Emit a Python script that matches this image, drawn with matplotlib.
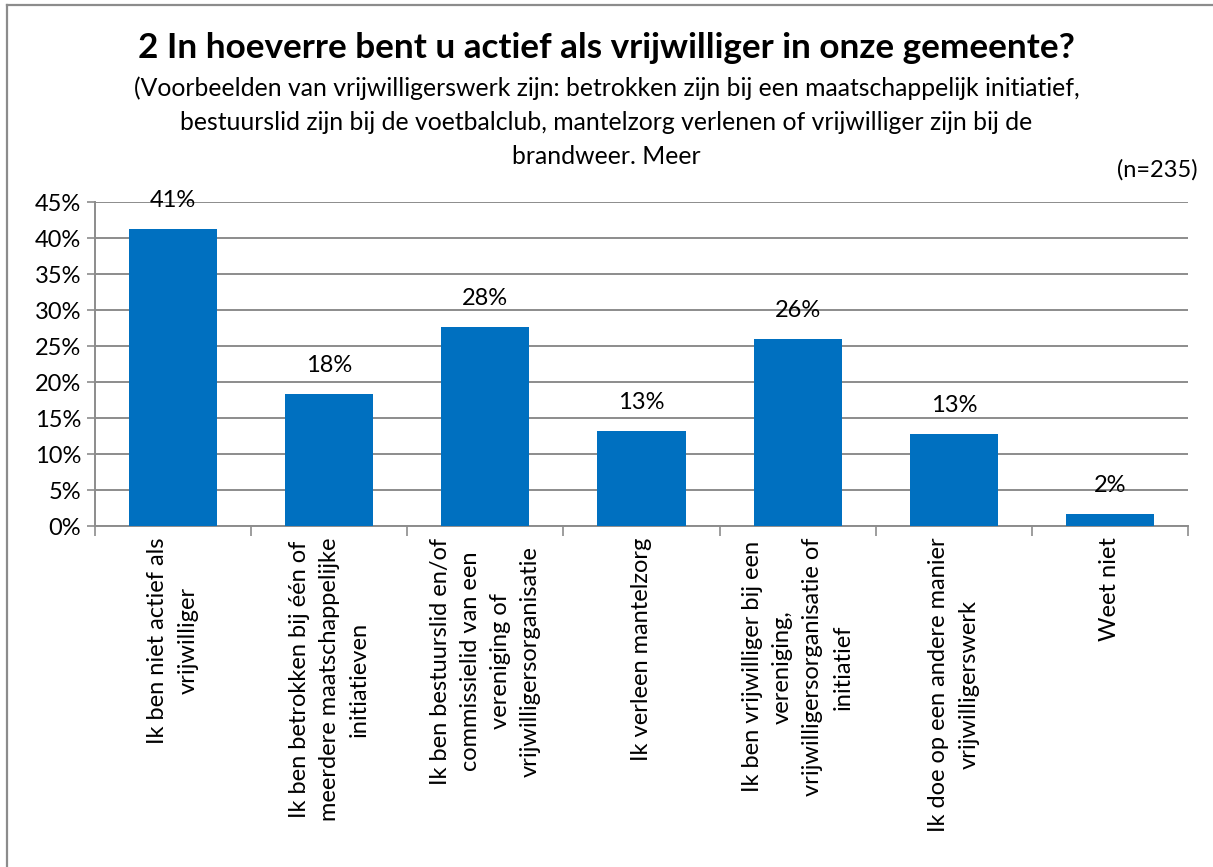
import matplotlib
matplotlib.use("Agg")
import matplotlib.pyplot as plt
from matplotlib.lines import Line2D

categories = [
    "Ik ben niet actief als\nvrijwilliger",
    "Ik ben betrokken bij één of\nmeerdere maatschappelijke\ninitiatieven",
    "Ik ben bestuurslid en/of\ncommissielid van een\nvereniging of\nvrijwilligersorganisatie",
    "Ik verleen mantelzorg",
    "Ik ben vrijwilliger bij een\nvereniging,\nvrijwilligersorganisatie of\ninitiatief",
    "Ik doe op een andere manier\nvrijwilligerswerk",
    "Weet niet",
]
values = [41.3, 18.3, 27.7, 13.2, 26.0, 12.8, 1.7]
labels = ["41%", "18%", "28%", "13%", "26%", "13%", "2%"]
yticks = [0, 5, 10, 15, 20, 25, 30, 35, 40, 45]

title = "2 In hoeverre bent u actief als vrijwilliger in onze gemeente?"
subtitle = ("(Voorbeelden van vrijwilligerswerk zijn: betrokken zijn bij een maatschappelijk initiatief,\n"
            "bestuurslid zijn bij de voetbalclub, mantelzorg verlenen of vrijwilliger zijn bij de\n"
            "brandweer. Meer")
ntext = "(n=235)"

plt.rcParams['font.family'] = ['Lato', 'DejaVu Sans']

fig = plt.figure(figsize=(12.13, 8.67), dpi=100)
W, H = 1213.0, 867.0
gray = "#8c8c8c"
# partial outer frame (left and top edges only visible)
fig.add_artist(Line2D([6.5 / W, 6.5 / W], [0, 1 - 4.5 / H], transform=fig.transFigure,
                      color=gray, linewidth=1.6))
fig.add_artist(Line2D([6.5 / W, 1], [1 - 4.5 / H, 1 - 4.5 / H], transform=fig.transFigure,
                      color=gray, linewidth=1.6))

ax = fig.add_axes([0.0783, 0.3933, 0.9011, 0.3737])
x = list(range(len(categories)))
ax.bar(x, values, width=0.565, color="#0070C0", zorder=3)
for xi, v, lab in zip(x, values, labels):
    ax.annotate(lab, (xi, v), xytext=(0, 13), textcoords="offset points",
                ha="center", va="bottom", fontsize=17, color="#000000")

ax.set_xlim(-0.5, len(categories) - 0.5)
ax.set_ylim(0, 45)
ax.set_yticks(yticks)
ax.set_yticklabels([f"{t}%" for t in yticks], fontsize=17)
ax.yaxis.grid(True, color=gray, linewidth=1.4, zorder=0)
ax.set_axisbelow(True)
ax.tick_params(axis="y", length=6, width=1.2, color=gray, pad=4)

ax.set_xticks([i + 0.5 for i in range(-1, len(categories))])
ax.set_xticklabels([])
ax.tick_params(axis="x", length=7, width=1.2, color=gray)
for i, c in enumerate(categories):
    ax.text(i, -1.6, c, rotation=90, ha="center", va="top", multialignment="center",
            fontsize=17, linespacing=1.54, transform=ax.transData)

for s in ["top", "right"]:
    ax.spines[s].set_visible(False)
for s in ["left", "bottom"]:
    ax.spines[s].set_color(gray)
    ax.spines[s].set_linewidth(1.4)

fig.text(0.5, 0.945, title, ha="center", va="center", fontsize=25.3, fontweight="bold")
fig.text(0.5, 0.859, subtitle, ha="center", va="center", fontsize=17.8, linespacing=1.56)
fig.text(0.987, 0.804, ntext, ha="right", va="center", fontsize=17)

fig.savefig("out.png", dpi=100)
